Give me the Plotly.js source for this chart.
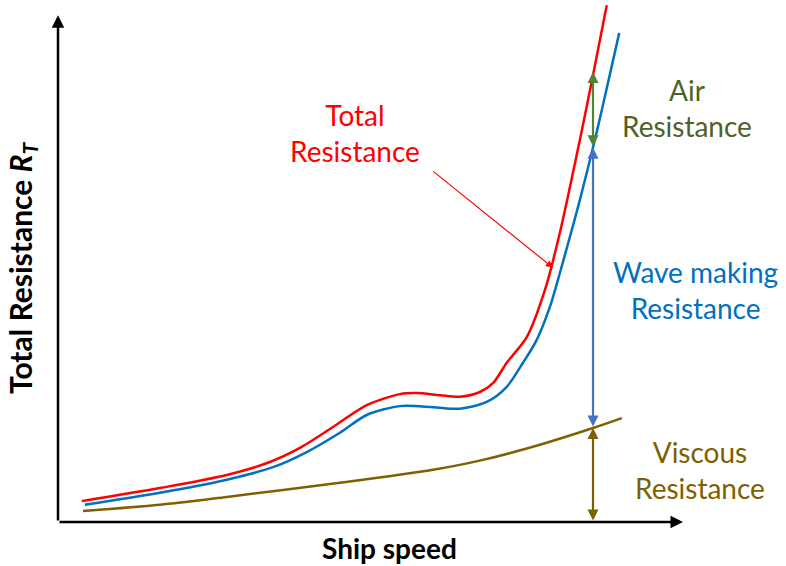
<!DOCTYPE html>
<html>
<head>
<meta charset="utf-8">
<script src="https://cdn.plot.ly/plotly-3.0.1.min.js"></script>
<style>html,body{margin:0;padding:0;background:#fff;}#chart{width:786px;height:566px;}</style>
</head>
<body>
<div id="chart"></div>
<script>
// Ship speed (arbitrary units) and resistance values
const totalSpeed = [0.38, 1.63, 2.70, 3.39, 3.87, 4.40, 4.94, 5.47, 5.74, 6.11, 6.43, 6.75, 6.96, 7.18, 7.50, 7.79, 8.03, 8.35, 8.56, 8.78];
const totalRes   = [0.40, 0.65, 0.90, 1.15, 1.42, 1.82, 2.24, 2.45, 2.47, 2.43, 2.40, 2.49, 2.66, 3.05, 3.54, 4.44, 5.54, 7.32, 8.56, 9.90];

const waveSpeed = [0.43, 1.63, 2.70, 3.44, 3.98, 4.51, 4.94, 5.47, 6.00, 6.43, 6.86, 7.18, 7.44, 7.66, 7.87, 8.03, 8.19, 8.35, 8.59, 8.78, 8.98];
const waveRes   = [0.33, 0.56, 0.81, 1.05, 1.34, 1.71, 2.05, 2.22, 2.20, 2.17, 2.30, 2.59, 3.05, 3.49, 4.12, 4.77, 5.46, 6.17, 7.32, 8.31, 9.37];

const viscSpeed = [0.40, 1.63, 2.70, 4.51, 6.00, 6.80, 7.71, 8.56, 9.02];
const viscRes   = [0.21, 0.33, 0.48, 0.75, 1.00, 1.19, 1.48, 1.80, 1.99];

// Component arrows at the marked speed
const markSpeed = 8.56;
const markLevels = [0, 1.80, 7.17, 8.62]; // ground, viscous, viscous+wave, total

const labels = {
  total: "Total<br>Resistance",
  air: "Air<br>Resistance",
  wave: "Wave making<br>Resistance",
  visc: "Viscous<br>Resistance",
  xTitle: "Ship speed",
  yTitle: "Total Resistance <i>R<sub>T</sub></i>"
};

const RED = "#ff0000", BLUE = "#0070c0", OLIVE = "#7f6000", GREEN = "#4f6228", ARROWGREEN = "#538135", ARROWBLUE = "#4472c4";
const FONT = "Lato, 'Open Sans', sans-serif";

const traces = [
  {x: viscSpeed, y: viscRes, mode: "lines", line: {color: OLIVE, width: 2.5, shape: "spline", smoothing: 0.8}, hoverinfo: "skip"},
  {x: waveSpeed, y: waveRes, mode: "lines", line: {color: BLUE, width: 2.5, shape: "spline", smoothing: 0.8}, hoverinfo: "skip"},
  {x: totalSpeed, y: totalRes, mode: "lines", line: {color: RED, width: 2.5, shape: "spline", smoothing: 0.8}, hoverinfo: "skip"}
];

function dblArrow(y0, y1, color) {
  return {x: markSpeed, y: y1, ax: markSpeed, ay: y0, xref: "x", yref: "y", axref: "x", ayref: "y",
          text: "", showarrow: true, arrowhead: 2, startarrowhead: 2, arrowside: "end+start",
          arrowsize: 1, startarrowsize: 1, arrowwidth: 2.2, arrowcolor: color};
}
function label(text, x, y, color) {
  return {xref: "paper", yref: "paper", x: x, y: y, text: text, showarrow: false,
          xanchor: "center", yanchor: "middle", align: "center",
          font: {family: FONT, size: 28, color: color}};
}

const annotations = [
  // axes with arrow heads
  {x: 10, y: 0, ax: 0, ay: 0, xref: "x", yref: "y", axref: "x", ayref: "y", text: "", showarrow: true,
   arrowhead: 2, arrowsize: 1, arrowwidth: 2.5, arrowcolor: "#000"},
  {x: 0, y: 9.71, ax: 0, ay: 0, xref: "x", yref: "y", axref: "x", ayref: "y", text: "", showarrow: true,
   arrowhead: 2, arrowsize: 1, arrowwidth: 2.5, arrowcolor: "#000"},
  dblArrow(markLevels[0], markLevels[1], OLIVE),
  dblArrow(markLevels[1], markLevels[2], ARROWBLUE),
  dblArrow(markLevels[2], markLevels[3], ARROWGREEN),
  // pointer to total curve
  {x: 7.92, y: 4.87, ax: 5.98, ay: 6.74, xref: "x", yref: "y", axref: "x", ayref: "y", text: "", showarrow: true,
   arrowhead: 2, arrowsize: 1.2, arrowwidth: 1.2, arrowcolor: RED},
  label(labels.total, 0.4752, 0.7450, RED),
  label(labels.air, 1.0064, 0.7931, GREEN),
  label(labels.wave, 1.0192, 0.4444, BLUE),
  label(labels.visc, 1.0272, 0.0996, OLIVE),
  {xref: "paper", yref: "paper", x: 0.531, y: -0.05, text: "<b>" + labels.xTitle + "</b>", showarrow: false,
   xanchor: "center", yanchor: "middle", font: {family: FONT, size: 28, color: "#000"}},
  {xref: "paper", yref: "paper", x: -0.0576, y: 0.4866, text: "<b>" + labels.yTitle + "</b>", showarrow: false,
   textangle: -90, xanchor: "center", yanchor: "middle", font: {family: FONT, size: 30, color: "#000"}}
];

const layout = {
  width: 786, height: 566,
  margin: {l: 58, r: 103, t: 0, b: 44},
  paper_bgcolor: "#fff", plot_bgcolor: "#fff",
  showlegend: false,
  xaxis: {range: [0, 10], showgrid: false, zeroline: false, showticklabels: false, ticks: "", showline: false, fixedrange: true},
  yaxis: {range: [0, 10], showgrid: false, zeroline: false, showticklabels: false, ticks: "", showline: false, fixedrange: true},
  annotations: annotations
};

Plotly.newPlot("chart", traces, layout, {staticPlot: true, displayModeBar: false});
</script>
</body>
</html>
